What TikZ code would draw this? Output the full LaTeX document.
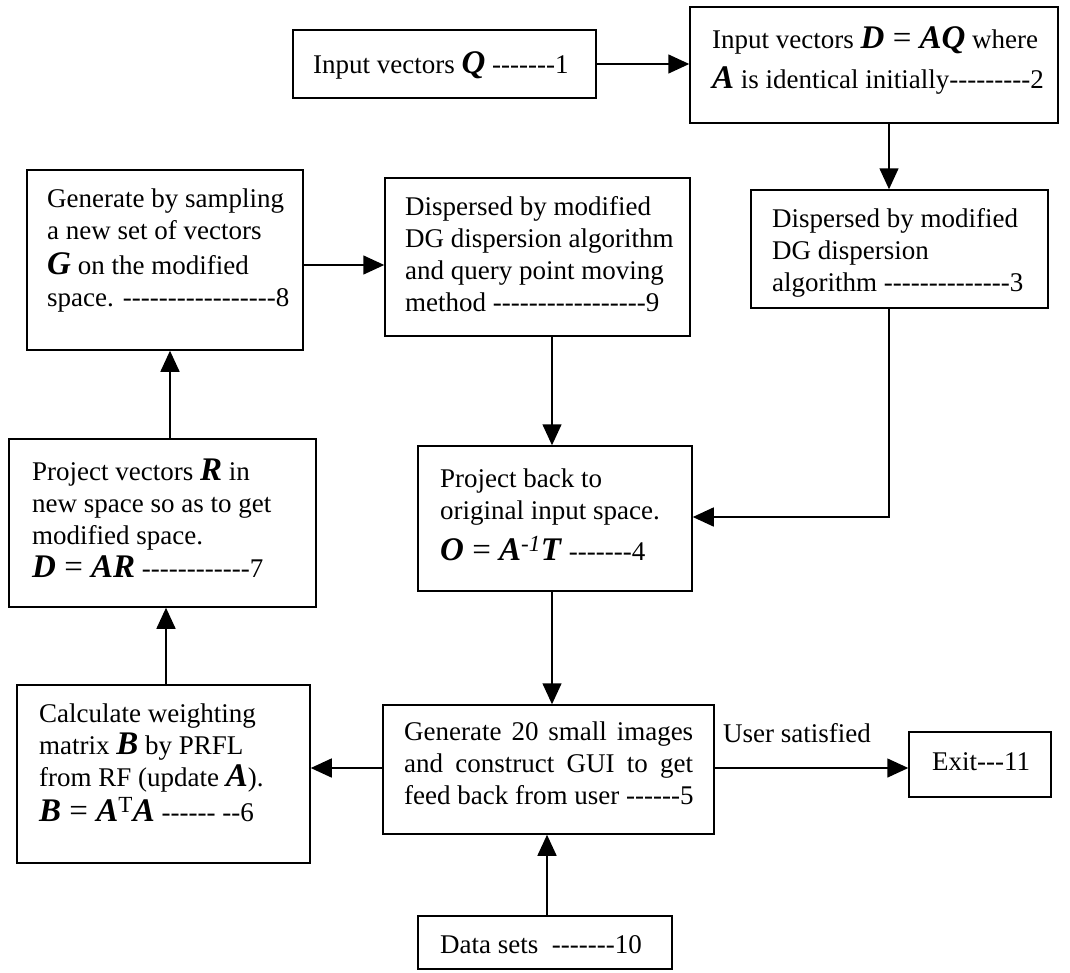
\documentclass[tikz,border=0pt]{standalone}
\usepackage{fontspec}
\setmainfont{Liberation Serif}
\usetikzlibrary{arrows.meta,fit}
\newcount\dcnt
\newcommand\dsh[1]{\dcnt=0 \loop-\kern0pt\advance\dcnt by 1 \ifnum\dcnt<#1 \repeat}
\newcommand\bi[1]{\textbf{\textit{#1}}}
\newcommand\fm[1]{{\fontsize{33pt}{33pt}\selectfont #1}}
\newcommand\fl{\rule{0pt}{22pt}}
\tikzset{
  box/.style={draw, line width=1.5pt, inner sep=0pt},
  txt/.style={inner sep=0pt, anchor=north west, align=left, font=\fontsize{27pt}{32pt}\selectfont},
  one/.style={inner sep=0pt, anchor=base west, font=\fontsize{27pt}{32pt}\selectfont},
  arr/.style={line width=1.5pt, -{Triangle[length=21pt,width=19pt]}},
}
\begin{document}
\begin{tikzpicture}[x=1pt,y=-1pt]
\path[fill=white,use as bounding box] (0,0) rectangle (1070,972);
% boxes
\node[box, fit={(293,30)(596,98)}] (b1) {};
\node[box, fit={(690,7)(1058,123)}] (b2) {};
\node[box, fit={(751,190)(1048,308)}] (b3) {};
\node[box, fit={(27,170)(303,350)}] (b8) {};
\node[box, fit={(385,178)(690,336)}] (b9) {};
\node[box, fit={(9,439)(316,607)}] (b7) {};
\node[box, fit={(418,446)(692,591)}] (b4) {};
\node[box, fit={(17,685)(310,863)}] (b6) {};
\node[box, fit={(383,705)(714,834)}] (b5) {};
\node[box, fit={(909,732)(1051,797)}] (b11) {};
\node[box, fit={(418,916)(672,969)}] (b10) {};
% texts
\node[one] (t1) at (313,73) {Input vectors \fm{\bi{Q}} \dsh{7}1};
\node[txt] (t2) at (712,26) {\fl Input vectors \fm{\bi{D} = \bi{AQ}} where\\[8pt]
  \fm{\bi{A}} is identical initially\dsh{9}2};
\node[txt] (t3) at (772,205) {\fl Dispersed by modified\\ DG dispersion\\ algorithm \dsh{14}3};
\node[txt] (t8) at (47,185) {\fl Generate by sampling\\ a new set of vectors\\[3pt]
  \fm{\bi{G}} on the modified\\ space. \dsh{17}8};
\node[txt] (t9) at (405,193) {\fl Dispersed by modified\\ DG dispersion algorithm\\
  and query point moving\\ method \dsh{17}9};
\node[txt] (t7) at (32,458) {\fl Project vectors \fm{\bi{R}} in\\ new space so as to get\\
  modified space.\\[1pt] \fm{\bi{D} = \bi{AR}} \dsh{12}7};
\node[txt] (t4) at (440,465) {\fl Project back to\\ original input space.\\[9pt]
  \fm{\bi{O} = \bi{A}\textsuperscript{\textit{-1}}\bi{T}} \dsh{7}4};
\node[txt] (t6) at (39,700) {\fl Calculate weighting\\ matrix \fm{\bi{B}} by PRFL\\
  from RF (update \fm{\bi{A}}).\\[3pt] \fm{\bi{B} = \bi{A}\textsuperscript{T}\bi{A}} \dsh{6} \dsh{2}6};
\node[txt] (t5) at (404,718) {\fl\makebox[289pt][s]{Generate 20 small images}\\
  \makebox[289pt][s]{and construct GUI to get}\\ feed back from user \dsh{6}5};
\node[one] (t10) at (440,953) {Data sets\ \ \dsh{7}10};
\node[one] (t11) at (932,770) {Exit\dsh{3}11};
\node[one] (lab) at (723,742) {User satisfied};
% helper coordinates
\coordinate (xa) at (889,0);
\coordinate (xb) at (552,0);
\coordinate (xc) at (547,0);
\coordinate (xd) at (170,0);
\coordinate (xe) at (166,0);
\coordinate (ya) at (0,64);
\coordinate (yb) at (0,265);
\coordinate (yc) at (0,517);
\coordinate (yd) at (0,768);
% connectors
\draw[arr] (b1.east |- ya) -- (b2.west |- ya);
\draw[arr] (b2.south -| xa) -- (b3.north -| xa);
\draw[arr] (b8.east |- yb) -- (b9.west |- yb);
\draw[arr] (b3.south -| xa) |- (b4.east |- yc);
\draw[arr] (b9.south -| xb) -- (b4.north -| xb);
\draw[arr] (b4.south -| xb) -- (b5.north -| xb);
\draw[arr] (b10.north -| xc) -- (b5.south -| xc);
\draw[arr] (b5.west |- yd) -- (b6.east |- yd);
\draw[arr] (b5.east |- yd) -- (b11.west |- yd);
\draw[arr] (b6.north -| xe) -- (b7.south -| xe);
\draw[arr] (b7.north -| xd) -- (b8.south -| xd);
\end{tikzpicture}
\end{document}
